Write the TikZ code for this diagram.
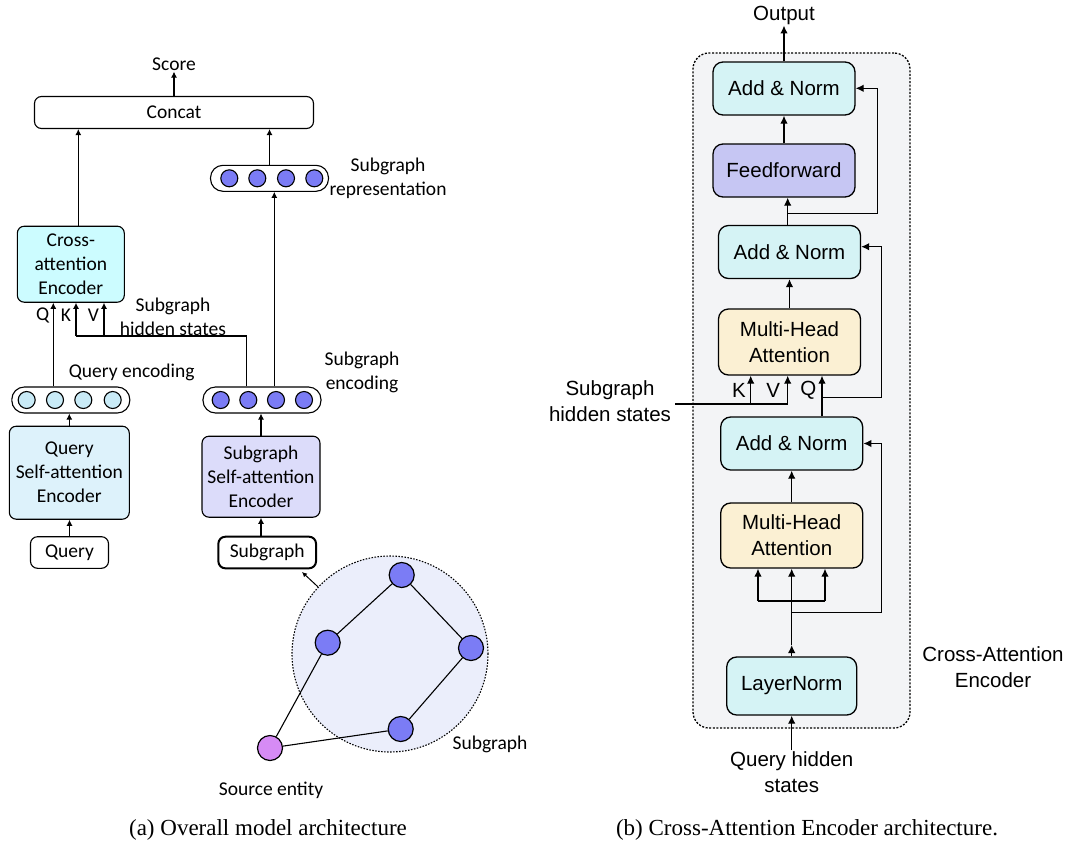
\documentclass[tikz,border=0pt]{standalone}
\usepackage{fontspec}
\setmainfont{Carlito}
\newfontfamily\rfont{Liberation Sans}
\newfontfamily\capfont{Liberation Serif}
\usetikzlibrary{arrows.meta}
\definecolor{crossfill}{HTML}{CCFCFF}
\definecolor{qsafill}{HTML}{DDF2FB}
\definecolor{qdot}{HTML}{C9EBF7}
\definecolor{ssafill}{HTML}{DCDCFA}
\definecolor{bdot}{HTML}{7B7CF5}
\definecolor{srcfill}{HTML}{D68BF5}
\definecolor{bigfill}{HTML}{EBEEFB}
\definecolor{anfill}{HTML}{D5F3F5}
\definecolor{fffill}{HTML}{C6C6F3}
\definecolor{mhafill}{HTML}{FBF0D3}
\definecolor{contfill}{HTML}{F3F4F6}
\begin{document}
\begin{tikzpicture}[x=1pt,y=-1pt,
  lf/.style={font=\fontsize{19.5}{24}\selectfont},
  rf/.style={font=\rfont\fontsize{20.5}{26}\selectfont},
  lbox/.style={draw, rounded corners=7pt, line width=1.1pt, align=center, lf, inner sep=0pt},
  pill/.style={draw, rounded corners=12.5pt, line width=1.1pt, minimum width=118pt, minimum height=26pt, fill=white},
  ldot/.style={circle, draw, line width=1.1pt, minimum size=17pt, inner sep=0pt},
  gdot/.style={circle, draw, line width=1.2pt, minimum size=25pt, inner sep=0pt, fill=bdot},
  txt/.style={align=center, inner sep=1pt},
  arr/.style={line width=1.1pt, -{Latex[length=6pt,width=6pt]}},
  ln/.style={line width=1.1pt},
  rbox/.style={draw, rounded corners=10pt, line width=1.3pt, align=center, rf, minimum width=142pt, minimum height=53pt, inner sep=0pt},
  rarr/.style={line width=1.3pt, -{Latex[length=8pt,width=7.5pt]}},
  rln/.style={line width=1.3pt},
  capf/.style={font=\capfont\fontsize{23}{26}\selectfont}
]
\useasboundingbox (0,0) rectangle (1070,841);

% ---------------- left panel ----------------
\node[lbox, minimum width=279pt, minimum height=32pt] (concat) at (174,112.5) {Concat};
\node[txt, lf] (score) at (174,64) {Score};
\draw[arr] (concat.north) -- (score.south);

\node[lbox, fill=crossfill, minimum width=107pt, minimum height=76pt] (cross) at (70.8,264.2) {Cross-\\attention\\Encoder};
\draw[arr] ([xshift=7.5pt]cross.north) -- ([xshift=7.5pt]cross.north |- concat.south);

\node[pill] (rep) at (269.5,178.3) {};
\foreach \i/\x in {1/229.3,2/257.3,3/286,4/314.3} \node[ldot, fill=bdot] (r\i) at (\x,178.3) {};
\node[txt, lf] (replab) at (388,178) {Subgraph\\representation};
\draw[arr] (rep.north) -- (rep.north |- concat.south);

\node[pill] (qenc) at (70.8,400) {};
\foreach \i/\x in {1/26.7,2/55,3/83.3,4/112.7} \node[ldot, fill=qdot] (q\i) at (\x,400) {};
\node[txt, lf] (qenclab) at (131.7,372.7) {Query encoding};

\node[pill] (senc) at (262,400) {};
\foreach \i/\x in {1/220.7,2/248.3,3/276,4/304} \node[ldot, fill=bdot] (s\i) at (\x,400) {};
\node[txt, lf] (senclab) at (362,372) {Subgraph\\encoding};

\draw[arr] ([xshift=-17.5pt]qenc.north) -- ([xshift=-17.5pt]qenc.north |- cross.south);
\node[txt, lf] (ql) at (42.7,315) {Q};
\node[txt, lf] (kl) at (66,315) {K};
\node[txt, lf] (vl) at (93.3,315) {V};

\coordinate (hj) at (246.7,336);
\coordinate (hk) at (76,336);
\coordinate (hv) at (104,336);
\draw[ln] (senc.north -| hj) -- (hj) -- (hk);
\draw[arr] (hk) -- (hk |- cross.south);
\draw[arr] (hv) -- (hv |- cross.south);
\node[txt, lf] (hslab) at (173,316.5) {Subgraph\\hidden states};

\draw[arr] ([xshift=12.3pt]senc.north) -- ([xshift=12.3pt]senc.north |- rep.south);

\node[lbox, fill=qsafill, minimum width=120pt, minimum height=93pt] (qsa) at (69.3,472.7) {Query\\Self-attention\\Encoder};
\draw[arr] (qsa.north) -- (qsa.north |- qenc.south);
\node[lbox, minimum width=78pt, minimum height=31.6pt] (query) at (69.5,552.5) {Query};
\draw[arr] (query.north) -- (query.north |- qsa.south);

\node[lbox, fill=ssafill, minimum width=118pt, minimum height=81pt] (ssa) at (261,476.7) {Subgraph\\Self-attention\\Encoder};
\draw[arr] (ssa.north) -- (ssa.north |- senc.south);
\node[lbox, line width=2pt, minimum width=97.7pt, minimum height=31.6pt] (subg) at (267.2,552.5) {Subgraph};
\draw[arr] (subg.north -| ssa.south) -- (ssa.south);

% graph
\node[circle, draw, dash pattern=on 1.5pt off 1.5pt, line width=1.1pt, fill=bigfill, minimum size=196pt] (bigc) at (390,654) {};
\node[gdot] (g1) at (401.7,575) {};
\node[gdot] (g2) at (327.7,642.7) {};
\node[gdot] (g3) at (471,648) {};
\node[gdot] (g4) at (400.7,729) {};
\node[gdot, fill=srcfill] (src) at (270,748) {};
\draw[ln] (g1) -- (g2);
\draw[ln] (g1) -- (g3);
\draw[ln] (g3) -- (g4);
\draw[ln] (g2) -- (src);
\draw[ln] (g4) -- (src);
\coordinate (gtip) at (302,572);
\draw[line width=1pt, -{Latex[length=5pt,width=5pt]}] (bigc.137) -- (gtip);
\node[txt, lf] (glab) at (490,744) {Subgraph};
\node[txt, lf] (srclab) at (271,790) {Source entity};

% ---------------- right panel ----------------
\node[draw, dash pattern=on 2pt off 1.6pt, line width=1.3pt, rounded corners=16pt, fill=contfill, minimum width=217pt, minimum height=675pt] (cont) at (801.5,390.5) {};
\node[rbox, fill=anfill] (an1) at (784,88.5) {Add \& Norm};
\node[txt, rf] (out) at (784,15) {Output};
\draw[rarr] (an1.north) -- (an1.north |- out.south);
\node[rbox, fill=fffill] (ff) at (784,170.5) {Feedforward};
\draw[rarr] (ff.north) -- (an1.south);
\node[rbox, fill=anfill] (an2) at (789.5,252) {Add \& Norm};
\node[rbox, fill=mhafill, minimum height=66pt] (mha1) at (789.5,342) {Multi-Head\\Attention};
\node[rbox, fill=anfill] (an3) at (791.7,443.5) {Add \& Norm};
\node[rbox, fill=mhafill, minimum height=65pt] (mha2) at (791.7,535.5) {Multi-Head\\Attention};
\node[rbox, fill=anfill, minimum width=130pt, minimum height=58pt] (lnorm) at (791.7,686) {LayerNorm};

\draw[rarr] ([xshift=-1.8pt]an2.north) -- ([xshift=-1.8pt]an2.north |- ff.south);
\coordinate (r1a) at (787.7,213.3);
\coordinate (r1b) at (877.7,213.3);
\coordinate (r1c) at (877.7,88.3);
\draw[rarr] (r1a) -- (r1b) -- (r1c) -- (r1c -| an1.east);
\draw[rarr] (mha1.north) -- (an2.south);

\coordinate (hsl) at (675,404);
\coordinate (kk) at (750.7,404);
\coordinate (vv) at (787.7,404);
\draw[rln] (hsl) -- (vv);
\draw[rarr] (kk) -- (kk |- mha1.south);
\draw[rarr] (vv) -- (vv |- mha1.south);
\draw[rarr] ([xshift=30.3pt]an3.north) -- ([xshift=30.3pt]an3.north |- mha1.south);
\coordinate (r2a) at (822,397.3);
\coordinate (r2b) at (881.7,397.3);
\coordinate (r2c) at (881.7,246.7);
\draw[rarr] (r2a) -- (r2b) -- (r2c) -- (r2c -| an2.east);
\node[txt, rf] (kl2) at (739,390) {K};
\node[txt, rf] (vl2) at (773.3,390) {V};
\node[txt, rf] (ql2) at (808.3,390) {Q};
\node[txt, rf] (hslab2) at (610,401) {Subgraph\\hidden states};

\draw[rarr] (mha2.north) -- (an3.south);
\coordinate (r3a) at (791.7,612.7);
\coordinate (r3b) at (881.7,612.7);
\coordinate (r3c) at (881.7,443.5);
\draw[rarr] (r3a) -- (r3b) -- (r3c) -- (an3.east);
\coordinate (b1) at (758,601);
\coordinate (b2) at (825,601);
\draw[rln] (b1) -- (b2);
\draw[rarr] (b1) -- (b1 |- mha2.south);
\draw[rarr] (b2) -- (b2 |- mha2.south);
\coordinate (lnmid) at (791.7,645);
\draw[rarr] (lnorm.north) -- (lnmid);
\draw[rarr] (lnmid) -- (mha2.south);
\node[txt, rf] (qhs) at (791.7,772) {Query hidden\\states};
\draw[rarr] (qhs.north) -- (lnorm.south);
\node[txt, rf] (calab) at (993,666.7) {Cross-Attention\\Encoder};

% captions
\node[txt, capf] (capa) at (268,830) {(a) Overall model architecture};
\node[txt, capf] (capb) at (807,830) {(b) Cross-Attention Encoder architecture.};
\end{tikzpicture}
\end{document}
